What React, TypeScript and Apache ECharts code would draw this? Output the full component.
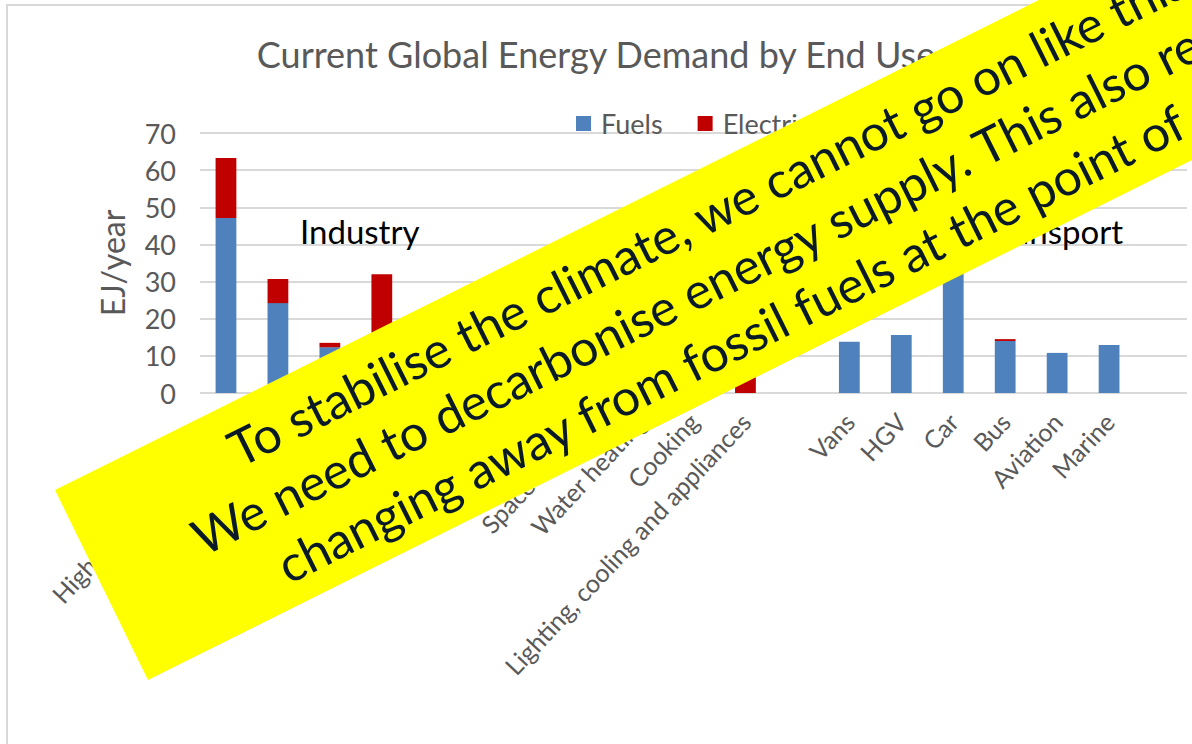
import React, { useEffect, useRef } from "react";
import * as echarts from "echarts";

const categories = [
  "High temperature heat",
  "Low temperature heat",
  "",
  "",
  "",
  "",
  "",
  "Space heating",
  "Water heating",
  "Cooking",
  "Lighting, cooling and appliances",
  "",
  "Vans",
  "HGV",
  "Car",
  "Bus",
  "Aviation",
  "Marine",
  "",
];

const fuels = [47.1, 24.2, 12.3, 0, 10, 15, null, 30, 10, 25, 0, null, 13.8, 15.6, 40, 14.0, 10.8, 12.9, null];
const electricity = [16.2, 6.5, 1.2, 32, 3, 5, null, 4, 3, 2, 25, null, 0, 0, 0, 0.5, 0, 0, null];

const yTicks = { min: 0, max: 70, interval: 10 };

const bannerLines = [
  "To stabilise the climate, we cannot go on like this.",
  "We need to decarbonise energy supply. This also requires",
  "changing away from fossil fuels at the point of use.",
];

const FONT = "Lato";

export default function App() {
  const ref = useRef<HTMLDivElement>(null);
  useEffect(() => {
    if (!ref.current) return;
    const chart = echarts.init(ref.current, undefined, { renderer: "svg" });
    const theta = 0.4625;
    const bannerText = (text: string, x: number, y: number) => ({
      type: "text",
      x,
      y,
      z: 101,
      style: { text, fontSize: 50, fontFamily: FONT, fill: "#0a1a26", verticalAlign: "middle", align: "left" },
    });
    chart.setOption({
      animation: false,
      textStyle: { fontFamily: FONT },
      title: {
        text: "Current Global Energy Demand by End Use",
        left: "center",
        top: 36,
        padding: 0,
        textStyle: { fontSize: 36, fontWeight: "normal", color: "#595959", fontFamily: FONT },
      },
      legend: {
        left: 576,
        top: 110,
        padding: 0,
        icon: "rect",
        itemWidth: 15,
        itemHeight: 15,
        itemGap: 35,
        textStyle: { fontSize: 27, color: "#595959", fontFamily: FONT, padding: [0, 0, 0, 5] },
      },
      grid: { left: 200, top: 133, width: 987, height: 260 },
      xAxis: {
        type: "category",
        data: categories,
        axisLine: { show: false },
        axisTick: { show: false },
        axisLabel: { interval: 0, rotate: 47, fontSize: 25, color: "#595959", margin: 24, fontFamily: FONT },
      },
      yAxis: {
        type: "value",
        min: yTicks.min,
        max: yTicks.max,
        interval: yTicks.interval,
        axisLine: { show: false },
        axisTick: { show: false },
        axisLabel: { fontSize: 27, color: "#595959", margin: 24, fontFamily: FONT },
        splitLine: { lineStyle: { color: "#d9d9d9", width: 2 } },
        name: "EJ/year",
        nameLocation: "middle",
        nameRotate: 90,
        nameGap: 72,
        nameTextStyle: { fontSize: 32, color: "#595959", fontFamily: FONT },
      },
      series: [
        { name: "Fuels", type: "bar", stack: "total", data: fuels, barWidth: "40%", itemStyle: { color: "#4f81bd" } },
        { name: "Electricity", type: "bar", stack: "total", data: electricity, barWidth: "40%", itemStyle: { color: "#c00000" } },
      ],
      graphic: [
        {
          type: "rect",
          z: -1,
          shape: { x: 7, y: 5, width: 1300, height: 900 },
          style: { fill: "none", stroke: "#d9d9d9", lineWidth: 2 },
        },
        {
          type: "text",
          x: 300,
          y: 231,
          z: 10,
          style: { text: "Industry", fontSize: 33, fontFamily: FONT, fill: "#000000", verticalAlign: "middle", align: "left" },
        },
        {
          type: "text",
          x: 1123,
          y: 231,
          z: 10,
          style: { text: "Transport", fontSize: 33, fontFamily: FONT, fill: "#000000", verticalAlign: "middle", align: "right" },
        },
        {
          type: "polygon",
          z: 100,
          shape: { points: [[55, 490], [148, 680], [1401, 56], [1308, -134]] },
          style: { fill: "#ffff00" },
        },
        {
          type: "group",
          x: 55,
          y: 490,
          rotation: theta,
          z: 101,
          children: [
            bannerText(bannerLines[0], 175, 44),
            bannerText(bannerLines[1], 103, 107),
            bannerText(bannerLines[2], 167, 170),
          ],
        },
      ],
    });
    return () => chart.dispose();
  }, []);
  return <div ref={ref} style={{ position: "fixed", left: 0, top: 0, width: 1192, height: 744, background: "#ffffff" }} />;
}
